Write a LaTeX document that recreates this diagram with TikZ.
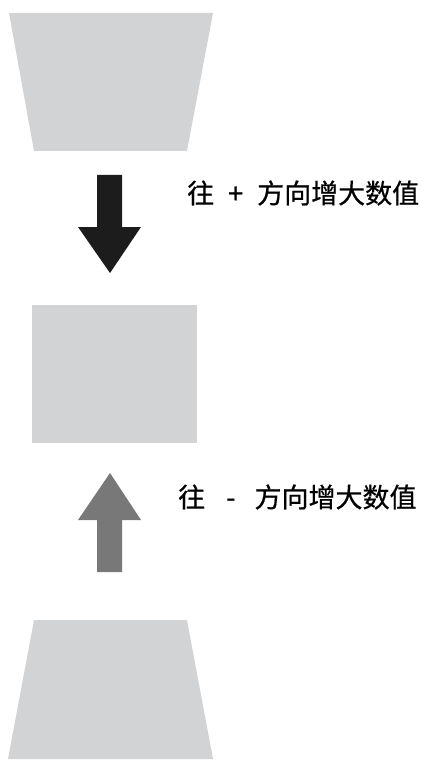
\documentclass[tikz,border=0pt]{standalone}
\usepackage{fontspec}
\newfontfamily\cjk[FakeBold=0.6]{Noto Sans CJK SC}
\definecolor{shapegray}{HTML}{D1D3D5}
\definecolor{darkarrow}{HTML}{1C1C1C}
\definecolor{lightarrow}{HTML}{787878}
\begin{document}
\begin{tikzpicture}[x=1pt,y=-1pt,
  plate/.style={fill=shapegray,draw=none},
  label/.style={font=\cjk\fontsize{27}{30}\selectfont,anchor=west,inner sep=0pt,text=black}]
\useasboundingbox (0,0) rectangle (423,762);
% top trapezoid
\fill[shapegray] (9,13) -- (213,13) -- (187,151) -- (34,151) -- cycle;
% middle rectangle
\fill[shapegray] (32,305) rectangle (197,443);
% bottom trapezoid
\fill[shapegray] (34,620) -- (187,620) -- (213,759) -- (8,759) -- cycle;
% down arrow
\fill[darkarrow] (97,175) -- (122,175) -- (122,227) -- (141,227) -- (110,273) -- (78,227) -- (97,227) -- cycle;
% up arrow
\fill[lightarrow] (110,473) -- (141,520) -- (122,520) -- (122,572) -- (97,572) -- (97,520) -- (78,520) -- cycle;
% labels
\node[label] (plus) at (187,193) {往\hspace{14pt}+\hspace{14pt}方向增大数值};
\node[label] (minus) at (178,497) {往\hspace{21pt}-\hspace{19pt}方向增大数值};
\end{tikzpicture}
\end{document}
